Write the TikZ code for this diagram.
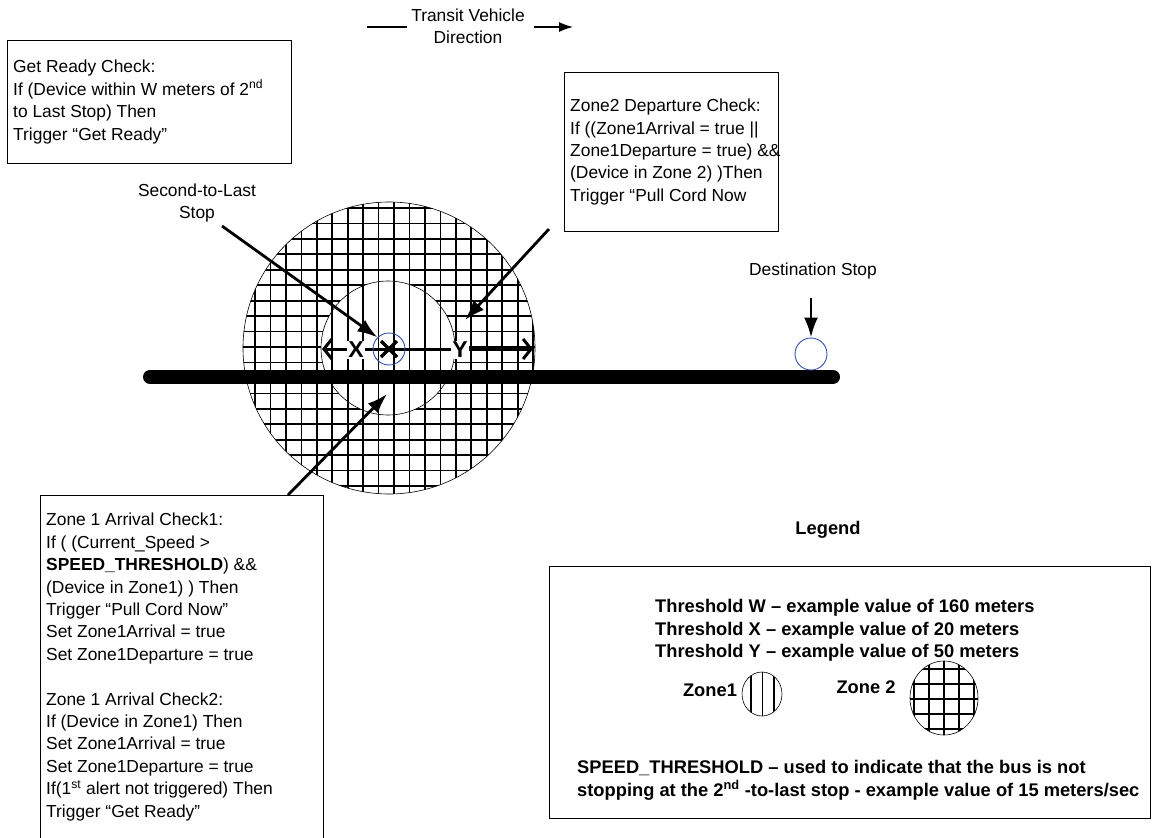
\documentclass[tikz,border=0pt]{standalone}
\usepackage{fontspec}
\setmainfont{Liberation Sans}
\usetikzlibrary{arrows.meta}

\definecolor{stopblue}{RGB}{50,80,175}

\tikzset{
  txt/.style={inner sep=0pt, align=left, font=\fontsize{17.4}{22.4}\selectfont},
  boldtxt/.style={inner sep=0pt, align=left, font=\fontsize{18.3}{22.6}\selectfont\bfseries},
  dimlabel/.style={inner sep=1pt, fill=white, font=\fontsize{23}{26}\selectfont\bfseries},
  checkbox/.style={draw, line width=0.8pt, anchor=north west, inner sep=0pt},
  pointer/.style={line width=2.8pt, -{Latex[length=20pt,width=14pt]}},
  dimline/.style={line width=3pt, {Straight Barb[length=8pt,width=20pt]}-{Straight Barb[length=8pt,width=20pt]}},
  zoneedge/.style={line width=0.6pt},
  hatch/.style={line width=1.7pt},
  stopmark/.style={draw=stopblue, line width=0.9pt, circle, minimum size=32pt, inner sep=0pt},
}

\begin{document}
\begin{tikzpicture}[x=1pt,y=-1pt]
\useasboundingbox (0,0) rectangle (1152,838);

% direction of travel
\node[txt, align=center] (dirtext) at (468,26) {Transit Vehicle\\Direction};
\coordinate (dirL) at (367,27);
\coordinate (dirLend) at (407,27);
\coordinate (dirRstart) at (534,27);
\coordinate (dirR) at (573,27);
\draw[line width=1.2pt] (dirL) -- (dirLend);
\draw[line width=1.2pt, -{Latex[length=14pt,width=10pt]}] (dirRstart) -- (dirR);

% check boxes
\node[checkbox, minimum width=284pt, minimum height=123pt] (readybox) at (7,40) {};
\node[txt, anchor=west] (readytext) at ([xshift=6pt]readybox.west)
  {Get Ready Check:\\
   If (Device within W meters of 2\textsuperscript{nd}\\
   to Last Stop) Then\\
   Trigger “Get Ready”};

\node[checkbox, minimum width=214pt, minimum height=159pt] (departbox) at (564,72) {};
\node[txt, anchor=west] (departtext) at ([xshift=6pt]departbox.west)
  {Zone2 Departure Check:\\
   If ((Zone1Arrival = true ||\\
   Zone1Departure = true) \&\&\\
   (Device in Zone 2) )Then\\
   Trigger “Pull Cord Now};

\draw[line width=0.8pt] (40,840) -- (40,495) -- (323,495) -- (323,840);
\node[txt, anchor=north west] (arrivaltext) at (46,513)
  {Zone 1 Arrival Check1:\\
   If ( (Current\_Speed >\\
   \textbf{SPEED\_THRESHOLD}) \&\&\\
   (Device in Zone1) ) Then\\
   Trigger “Pull Cord Now”\\
   Set Zone1Arrival = true\\
   Set Zone1Departure = true\\[22.4pt]
   Zone 1 Arrival Check2:\\
   If (Device in Zone1) Then\\
   Set Zone1Arrival = true\\
   Set Zone1Departure = true\\
   If(1\textsuperscript{st} alert not triggered) Then\\
   Trigger “Get Ready”};

% zone 2: cross hatched ring
\begin{scope}
  \clip (389,348) circle (146pt);
  \foreach \k in {0,...,20}
    \draw[hatch] (239.55+15.45*\k,190) -- (239.55+15.45*\k,510);
  \foreach \k in {0,...,20}
    \draw[hatch] (230,192.5+15.45*\k) -- (550,192.5+15.45*\k);
\end{scope}
\draw[zoneedge] (389,348) circle (146pt);

% zone 1: vertical hatch only
\fill[white] (388,348) circle (67pt);
\begin{scope}
  \clip (388,348) circle (67pt);
  \foreach \k in {0,...,20}
    \draw[hatch] (239.55+15.45*\k,270) -- (239.55+15.45*\k,430);
\end{scope}
\draw[zoneedge] (388,348) circle (67pt);

% road
\coordinate (roadL) at (150,377);
\coordinate (roadR) at (833,377);
\draw[line width=14pt, line cap=round] (roadL) -- (roadR);

% second-to-last stop with thresholds X and Y
\coordinate (xend) at (322,349);
\coordinate (yend) at (533,349);
\draw[dimline] (xend) -- (yend);
\node[dimlabel] (xlabel) at (356,350) {X};
\node[dimlabel] (ylabel) at (460,350) {Y};
\node[stopmark] (prevstop) at (389,349) {};
\draw[line width=3.4pt] ([xshift=-8pt,yshift=-8pt]prevstop.center) -- ([xshift=8pt,yshift=8pt]prevstop.center);
\draw[line width=3.4pt] ([xshift=-8pt,yshift=8pt]prevstop.center) -- ([xshift=8pt,yshift=-8pt]prevstop.center);

\node[txt, align=center] (stoplabel) at (197,203) {Second-to-Last\\Stop};
\coordinate (stoptail) at (222,226);
\draw[pointer] (stoptail) -- (prevstop.north west);

\coordinate (departtail) at (549,229);
\coordinate (departtip) at (465,320);
\draw[pointer] (departtail) -- (departtip);

\coordinate (arrivaltail) at (288,495);
\coordinate (arrivaltip) at (387,394);
\draw[pointer] (arrivaltail) -- (arrivaltip);

% destination
\node[stopmark] (deststop) at (811,354) {};
\node[txt] (destlabel) at (813,271) {Destination Stop};
\coordinate (desttail) at (811,298);
\draw[pointer] (desttail) -- (deststop.north);

% legend
\node[boldtxt] (legendtitle) at (828,530) {Legend};
\node[checkbox, minimum width=601pt, minimum height=252pt] (legendbox) at (549,566) {};
\node[boldtxt, anchor=north west] (thresholds) at (655,599)
  {Threshold W – example value of 160 meters\\
   Threshold X – example value of 20 meters\\
   Threshold Y – example value of 50 meters};
\node[boldtxt] (zone1label) at (710,690) {Zone1};
\node[boldtxt] (zone2label) at (866,687) {Zone 2};
\begin{scope}
  \clip (762,694) ellipse (20pt and 22pt);
  \foreach \k in {0,1,2}
    \draw[hatch, line width=1.2pt] (751+11.5*\k,664) -- (751+11.5*\k,724);
\end{scope}
\draw[zoneedge] (762,694) ellipse (20pt and 22pt);
\begin{scope}
  \clip (944,698) ellipse (34pt and 37pt);
  \foreach \k in {0,...,4}
    \draw[hatch, line width=1.2pt] (914+15*\k,655) -- (914+15*\k,740);
  \foreach \k in {0,...,4}
    \draw[hatch, line width=1.2pt] (900,669+15*\k) -- (990,669+15*\k);
\end{scope}
\draw[zoneedge] (944,698) ellipse (34pt and 37pt);
\node[boldtxt, anchor=north west] (speednote) at (577,760)
  {SPEED\_THRESHOLD – used to indicate that the bus is not\\
   stopping at the 2\textsuperscript{nd} -to-last stop - example value of 15 meters/sec};
\end{tikzpicture}
\end{document}
